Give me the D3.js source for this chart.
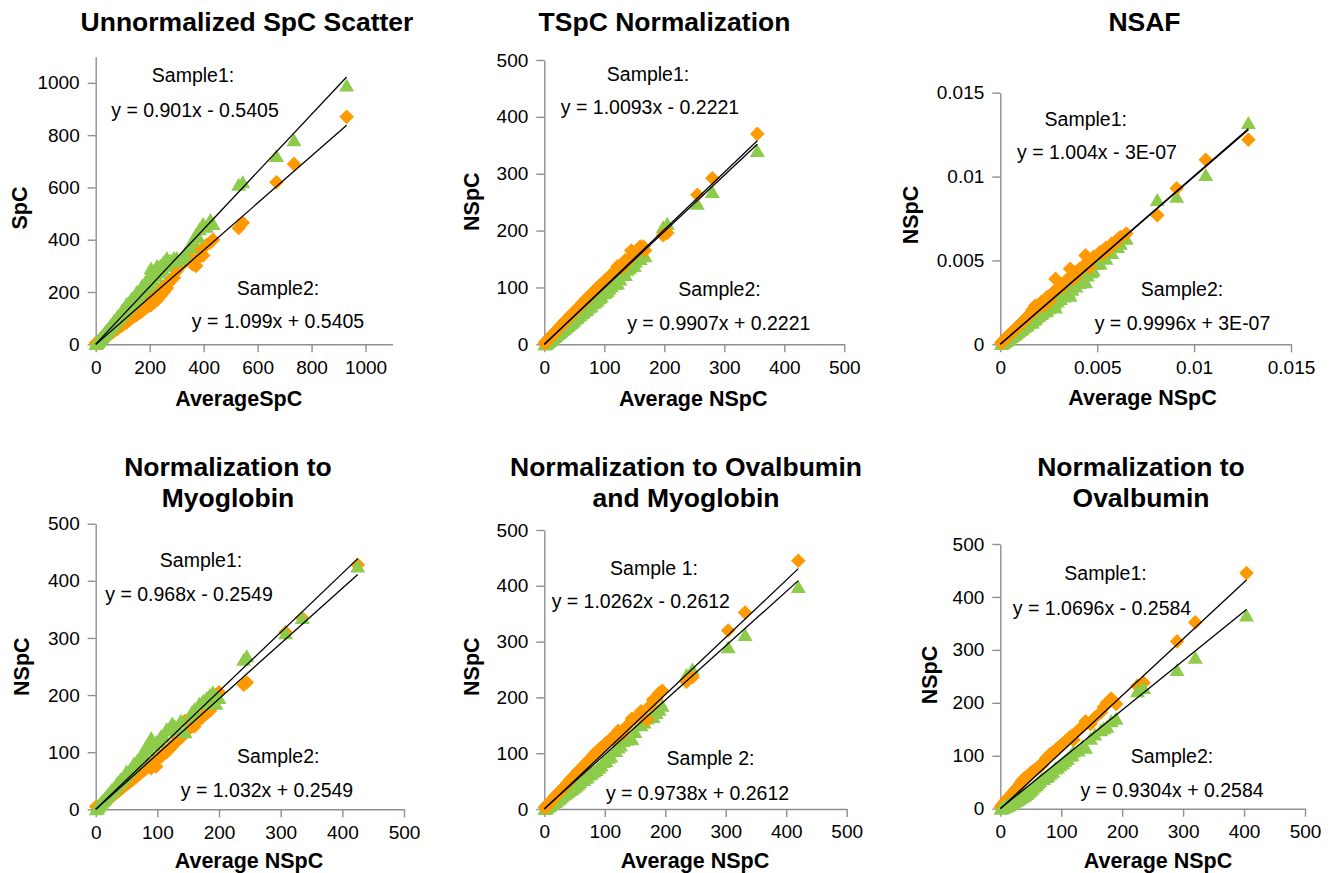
<!DOCTYPE html>
<html><head><meta charset="utf-8">
<script src="https://cdn.jsdelivr.net/npm/d3@7"></script>
<style>
body{margin:0;background:#fff}
svg{display:block}
text{font-family:"Liberation Sans",Arial,Helvetica,sans-serif;fill:#000}
</style>
</head><body>
<svg id="c" width="1335" height="873"></svg>
<script>
// ---------------- DATA ----------------
// Panel 1: Unnormalized SpC Scatter
const p1Avg = [1,3,5,7,9,12,15,18,22,26,30,35,40,45,50,56,62,68,75,82,90,98,106,115,124,133,142,152,162,172,183,194,205,216,228,240,252,264,276,290,305,320,345,360,372,385,398,410,425,435,530,545,670,735,930,
  4,10,14,20,28,33,38,48,54,60,66,72,80,86,94,102,110,120,128,138,148,158,168,178,188,200,212,225,238,250,262,280,300,330,350,380];
const p1Orange = [5,2,4,5,7,9,11,13,16,20,22,26,30,34,38,42,45,52,56,60,68,72,80,84,92,100,106,112,120,128,136,145,150,160,170,185,200,215,240,255,290,320,330,305,300,335,340,380,390,400,445,465,620,690,870,
  3,8,12,17,24,27,33,41,46,52,55,60,68,72,80,86,94,100,108,118,126,135,145,150,160,170,180,195,205,220,230,250,280,315,330,360];
const p1Green = [1,4,7,9,12,16,20,24,28,34,38,46,52,56,65,72,78,90,96,108,112,130,138,155,160,175,180,200,205,225,235,255,290,280,300,300,315,330,320,330,320,330,370,395,420,440,460,450,475,460,610,620,720,780,990,
  6,13,17,24,33,40,44,58,63,72,80,88,96,104,112,122,130,142,150,160,172,185,195,210,220,232,246,260,275,285,300,315,330,345,370,410];
const p1Fit = [[0.901,-0.5405],[1.099,0.5405]];

// Panel 2: TSpC Normalization
const p2Avg = [1,2,4,6,8,10,13,16,19,22,26,30,34,38,43,48,53,58,64,70,76,82,88,95,102,108,115,122,130,138,145,152,160,168,198,205,255,280,355,
  3,5,7,9,11,14,17,20,24,28,32,36,40,45,50,55,60,66,72,78,85,92,100,105,112,118,126,135,142,150,165];
const p2Orange = [2,4,6,8,10,13,16,19,23,26,31,35,40,44,50,56,60,66,73,80,86,92,99,106,112,118,125,137,135,145,165,160,172,165,192,196,263,292,370,
  4,6,9,11,13,17,20,24,28,33,37,42,46,52,57,63,68,74,81,88,95,103,110,116,122,130,138,148,150,162,172];
const p2Green = [0,0,2,4,6,7,10,13,15,18,21,25,28,32,36,40,46,50,55,60,66,72,77,84,92,98,106,107,125,131,138,145,150,155,206,212,247,268,340,
  2,4,5,7,9,11,14,16,20,23,27,30,34,38,43,47,52,58,63,68,75,81,90,94,102,106,114,122,134,138,158];
const p2Fit = [[1.0093,-0.2221],[0.9907,0.2221]];

// Panel 3: NSAF
const p3Avg = [0.00005,0.0001,0.0002,0.0003,0.0004,0.0005,0.0006,0.0007,0.0008,0.0009,0.001,0.0011,0.0012,0.00135,0.0015,0.00165,0.0018,0.00195,0.0021,0.00225,0.0024,0.00255,0.0027,0.00285,0.003,0.0032,0.0034,0.0036,0.0038,0.004,0.0042,0.0044,0.0046,0.0048,0.005,0.0053,0.0056,0.0059,0.0062,0.0065,0.0081,0.0091,0.0106,0.0128,
  0.00015,0.00025,0.00035,0.00045,0.00055,0.00065,0.00075,0.00085,0.00095,0.00105,0.00115,0.00125,0.0014,0.00155,0.0017,0.00185,0.002,0.00215,0.0023,0.0025,0.00265,0.0028,0.00295,0.0031,0.0033,0.0035,0.0037,0.0039,0.0041,0.0043,0.0045,0.0047,0.00515,0.00545,0.00575,0.00605];
const p3Orange = [0.00008,0.00015,0.00028,0.00038,0.0005,0.0006,0.00072,0.00082,0.00095,0.00105,0.00115,0.0013,0.00135,0.0016,0.0017,0.00205,0.0023,0.0022,0.0025,0.0023,0.0028,0.0026,0.003,0.0039,0.0033,0.0034,0.0038,0.0045,0.0039,0.0042,0.0045,0.0053,0.0046,0.0052,0.0053,0.0054,0.0057,0.006,0.0064,0.0066,0.0077,0.0093,0.011,0.0122,
  0.0002,0.00032,0.00045,0.00055,0.00068,0.00078,0.0009,0.001,0.00112,0.00122,0.00135,0.00145,0.00162,0.0018,0.00195,0.0021,0.0023,0.00245,0.0026,0.00285,0.003,0.00315,0.00335,0.0035,0.0037,0.0039,0.0041,0.0043,0.0045,0.0047,0.00485,0.005,0.0055,0.00575,0.006,0.00625];
const p3Green = [0.00002,0.00005,0.00012,0.0002,0.0003,0.0004,0.00048,0.00058,0.00065,0.00075,0.00085,0.0009,0.00105,0.0011,0.0013,0.0013,0.0015,0.0017,0.0018,0.0021,0.002,0.0024,0.0024,0.0022,0.0027,0.003,0.003,0.0029,0.0036,0.0038,0.0039,0.0037,0.0045,0.0044,0.0048,0.0052,0.0055,0.0058,0.006,0.0063,0.0086,0.0088,0.0101,0.0132,
  0.0001,0.00018,0.00027,0.00035,0.00044,0.00052,0.0006,0.0007,0.00078,0.00088,0.00095,0.00105,0.00118,0.0013,0.00145,0.0016,0.0017,0.00185,0.00195,0.00215,0.0023,0.00245,0.00255,0.0027,0.00285,0.0031,0.00325,0.00345,0.00365,0.00385,0.0041,0.0043,0.0048,0.0051,0.00545,0.0058];
const p3Fit = [[1.004,-3e-7],[0.9996,3e-7]];

// Panel 4: Normalization to Myoglobin
const p4Avg = [1,3,5,7,9,12,15,18,22,26,30,35,40,45,50,56,62,68,75,82,90,98,106,115,124,133,145,152,160,168,175,185,195,200,240,245,308,335,425,
  4,8,11,14,17,20,24,28,33,38,43,48,53,59,65,71,78,86,94,102,110,120,128,138,156,172,180,190];
const p4Orange = [5,3,4,6,8,10,13,16,19,23,26,30,35,40,44,49,54,60,66,72,72,75,92,100,110,124,155,142,145,158,165,172,200,205,218,222,310,335,428,
  3,7,9,12,15,17,21,24,29,33,37,42,46,51,56,62,68,75,82,90,98,108,115,125,145,160,168,180];
const p4Green = [0,2,6,9,12,15,19,23,28,34,38,46,52,57,66,70,80,86,97,110,125,118,128,140,150,142,135,162,175,185,190,200,185,195,262,268,308,335,425,
  5,10,14,17,21,25,29,34,40,46,52,58,64,72,80,86,95,104,112,120,128,138,146,155,170,186,195,205];
const p4Fit = [[0.968,-0.2549],[1.032,0.2549]];

// Panel 5: Normalization to Ovalbumin and Myoglobin
const p5Avg = [1,3,5,7,9,12,15,18,22,26,30,35,40,45,50,56,62,68,75,82,90,98,106,115,122,130,145,160,165,170,185,190,195,235,245,304,332,420,
  4,8,11,14,17,20,24,28,33,38,43,48,53,59,65,71,78,86,94,102,110,118,126,136,150,175,180];
const p5Orange = [3,5,7,9,12,15,19,23,27,32,36,42,48,55,60,68,72,80,88,98,106,112,120,126,140,135,162,175,165,160,198,208,212,228,236,320,352,445,
  5,10,13,17,21,25,29,34,40,46,52,58,64,70,78,85,92,102,110,118,126,132,138,148,162,185,196];
const p5Green = [0,1,3,5,6,9,11,13,17,20,24,28,32,36,40,45,52,56,62,67,74,84,92,104,110,122,125,150,155,162,172,178,185,240,250,290,312,398,
  3,6,8,10,13,15,18,22,26,30,34,38,42,48,52,57,64,70,78,86,94,104,114,124,138,165,165];
const p5Fit = [[1.0262,-0.2612],[0.9738,0.2612]];

// Panel 6: Normalization to Ovalbumin
const p6Avg = [1,3,5,7,9,12,15,18,22,26,30,35,40,45,50,56,62,68,75,82,90,98,106,115,120,140,155,175,182,190,225,235,290,320,404,
  4,8,11,14,17,20,24,28,33,38,43,48,53,59,65,71,78,86,94,102,110,118,128,135,148,165,170];
const p6Orange = [3,6,9,12,15,19,23,27,32,38,42,52,58,62,68,72,78,82,95,103,108,118,125,136,130,165,172,200,208,198,232,238,316,352,445,
  7,12,17,21,25,29,35,40,47,54,58,64,70,75,80,88,98,106,114,122,130,138,148,155,160,182,192];
const p6Green = [0,1,2,3,4,6,8,10,13,15,18,22,25,30,36,42,48,56,60,66,76,82,90,100,108,115,140,155,165,170,222,228,262,285,365,
  2,4,5,7,9,11,14,17,20,24,28,33,38,45,52,56,62,70,78,86,94,102,110,118,132,148,152];
const p6Fit = [[1.0696,-0.2584],[0.9304,0.2584]];

// Tick values
const ticksSpC = [0,200,400,600,800,1000];
const ticks500 = [0,100,200,300,400,500];
const ticksNSAF = [0,0.005,0.01,0.015];

// Texts
const titles = [["Unnormalized SpC Scatter"],["TSpC Normalization"],["NSAF"],["Normalization to","Myoglobin"],["Normalization to Ovalbumin","and Myoglobin"],["Normalization to","Ovalbumin"]];
const xLabels = ["AverageSpC","Average NSpC","Average NSpC","Average NSpC","Average NSpC","Average NSpC"];
const yLabels = ["SpC","NSpC","NSpC","NSpC","NSpC","NSpC"];
const eqTexts = [
  ["Sample1:","y = 0.901x - 0.5405","Sample2:","y = 1.099x + 0.5405"],
  ["Sample1:","y = 1.0093x - 0.2221","Sample2:","y = 0.9907x + 0.2221"],
  ["Sample1:","y = 1.004x - 3E-07","Sample2:","y = 0.9996x + 3E-07"],
  ["Sample1:","y = 0.968x - 0.2549","Sample2:","y = 1.032x + 0.2549"],
  ["Sample 1:","y = 1.0262x - 0.2612","Sample 2:","y = 0.9738x + 0.2612"],
  ["Sample1:","y = 1.0696x - 0.2584","Sample2:","y = 0.9304x + 0.2584"]
];

const data = [
  {avg:p1Avg, orange:p1Orange, green:p1Green, fit:p1Fit, xt:ticksSpC, yt:ticksSpC, xmax:1100, ymax:1100},
  {avg:p2Avg, orange:p2Orange, green:p2Green, fit:p2Fit, xt:ticks500, yt:ticks500, xmax:500, ymax:500},
  {avg:p3Avg, orange:p3Orange, green:p3Green, fit:p3Fit, xt:ticksNSAF, yt:ticksNSAF, xmax:0.015, ymax:0.015},
  {avg:p4Avg, orange:p4Orange, green:p4Green, fit:p4Fit, xt:ticks500, yt:ticks500, xmax:500, ymax:500},
  {avg:p5Avg, orange:p5Orange, green:p5Green, fit:p5Fit, xt:ticks500, yt:ticks500, xmax:500, ymax:500},
  {avg:p6Avg, orange:p6Orange, green:p6Green, fit:p6Fit, xt:ticks500, yt:ticks500, xmax:500, ymax:500}
];

// ---------------- LAYOUT ----------------
const layout = [
  {x0:95.7, x1:392.5, y0:344.3, y1:56.7, greenTop:true,
   title:[247,[31]], xl:[238.7,406], yl:[27,208],
   eq:[[193,82],[195,116.5],[278,295],[278,328.3]]},
  {x0:544.3, x1:844.3, y0:344.3, y1:60, greenTop:false,
   title:[664.5,[31]], xl:[693.2,406], yl:[479,201.7],
   eq:[[648,80.7],[650,114],[719.5,296],[718.8,330]]},
  {x0:1000.3, x1:1291, y0:344.3, y1:92.7, greenTop:false,
   title:[1144.5,[31]], xl:[1142.5,405], yl:[918,215],
   eq:[[1085.8,125.7],[1097,159],[1182,296],[1182.5,330]]},
  {x0:95.7, x1:404, y0:809.3, y1:523.7, greenTop:true,
   title:[228,[476,507]], xl:[249,868], yl:[29,666.7],
   eq:[[201,566.7],[189,600.7],[278.3,763.3],[267,796.7]]},
  {x0:544.3, x1:846.7, y0:809, y1:530, greenTop:false,
   title:[686,[476,507]], xl:[695,868], yl:[479,666.7],
   eq:[[654,575],[640.8,608.3],[710.5,765],[697.5,800]]},
  {x0:1000.3, x1:1305, y0:808.7, y1:544, greenTop:true,
   title:[1141,[476,507]], xl:[1158,868], yl:[937,675],
   eq:[[1105.5,580],[1102,615],[1172,762.7],[1172,797.3]]}
];

const ORANGE = "#FF9900", GREEN = "#8DCB4A", AXIS = "#8f8f8f";
const diamond = "M0,-7.3L7.3,0L0,7.3L-7.3,0Z";
const triangle = "M0,-7L7.5,6L-7.5,6Z";
const fmt = v => String(v);

const svg = d3.select("#c");

data.forEach((D, i) => {
  const L = layout[i];
  const x = d3.scaleLinear().domain([0, D.xmax]).range([L.x0, L.x1]);
  const y = d3.scaleLinear().domain([0, D.ymax]).range([L.y0, L.y1]);
  const g = svg.append("g");

  const ax = g.append("g").attr("transform", `translate(0,${L.y0})`)
    .call(d3.axisBottom(x).tickValues(D.xt).tickSize(8).tickSizeOuter(0).tickPadding(8).tickFormat(fmt));
  const ay = g.append("g").attr("transform", `translate(${L.x0},0)`)
    .call(d3.axisLeft(y).tickValues(D.yt).tickSize(8).tickSizeOuter(0).tickPadding(8).tickFormat(fmt));
  [ax, ay].forEach(a => {
    a.select(".domain").attr("stroke", AXIS).attr("stroke-width", 1.4);
    a.selectAll(".tick line").attr("stroke", AXIS).attr("stroke-width", 1.4);
    a.selectAll(".tick text").attr("fill", "#111").style("font-size", "19px")
      .style("font-family", '"Liberation Sans",Arial,Helvetica,sans-serif');
  });

  const pts = D.avg.map((a, k) => ({a, o: D.orange[k], gr: D.green[k]}));
  const drawOrange = () => g.append("g").selectAll("path").data(pts).join("path")
    .attr("d", diamond).attr("fill", ORANGE)
    .attr("transform", d => `translate(${x(d.a)},${y(d.o)})`);
  const drawGreen = () => g.append("g").selectAll("path").data(pts).join("path")
    .attr("d", triangle).attr("fill", GREEN)
    .attr("transform", d => `translate(${x(d.a)},${y(d.gr)})`);
  if (L.greenTop) { drawOrange(); drawGreen(); } else { drawGreen(); drawOrange(); }

  const xMaxData = d3.max(D.avg);
  const line = d3.line().x(d => x(d[0])).y(d => y(d[1]));
  D.fit.forEach(([m, b]) => {
    g.append("path").attr("d", line([[0, b], [xMaxData, m * xMaxData + b]]))
      .attr("fill", "none").attr("stroke", "#000").attr("stroke-width", 1.3);
  });

  titles[i].forEach((t, k) => {
    g.append("text").attr("x", L.title[0]).attr("y", L.title[1][k])
      .attr("text-anchor", "middle").style("font-size", "26.5px").style("font-weight", "bold").text(t);
  });
  g.append("text").attr("x", L.xl[0]).attr("y", L.xl[1]).attr("text-anchor", "middle")
    .style("font-size", "21.5px").style("font-weight", "bold").text(xLabels[i]);
  g.append("text").attr("transform", `translate(${L.yl[0]},${L.yl[1]}) rotate(-90)`)
    .attr("text-anchor", "middle").style("font-size", "21.5px").style("font-weight", "bold").text(yLabels[i]);

  eqTexts[i].forEach((t, k) => {
    g.append("text").attr("x", L.eq[k][0]).attr("y", L.eq[k][1]).attr("text-anchor", "middle")
      .style("font-size", "19.5px").text(t);
  });
});
</script>
</body></html>
